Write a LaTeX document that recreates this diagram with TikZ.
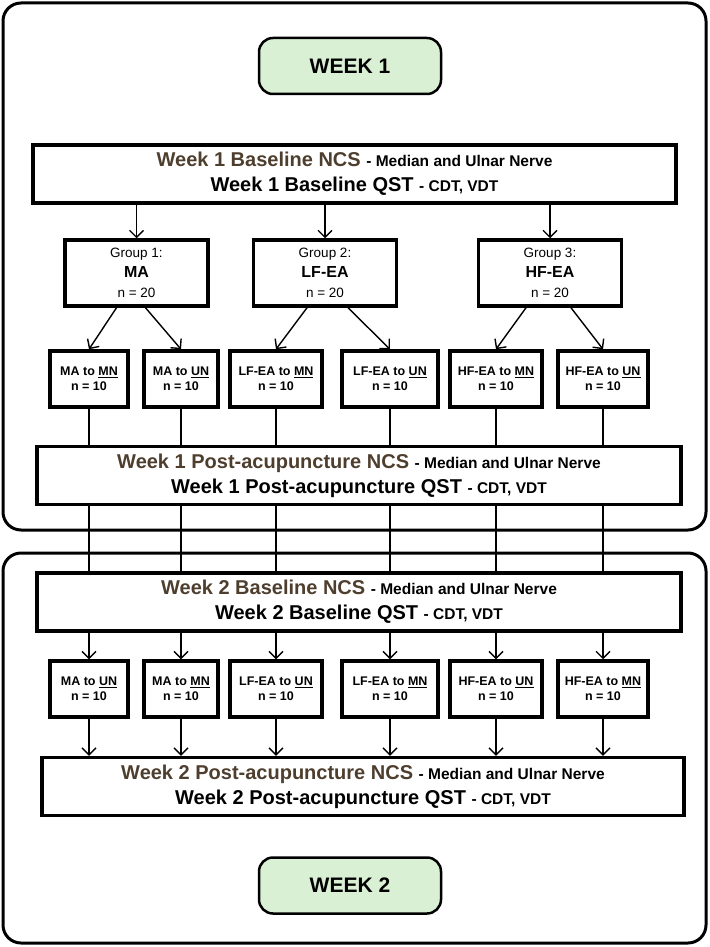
\documentclass[tikz,border=0pt]{standalone}
\usepackage{fontspec}
\setmainfont{Liberation Sans}
\usepackage{xcolor}
\usepackage{tikz}
\usetikzlibrary{arrows.meta, positioning}
\definecolor{ncsbrown}{RGB}{78,62,46}
\definecolor{weekgreen}{RGB}{218,240,212}
\newcommand{\stagenote}[1]{{\fontsize{15.5}{25}\selectfont #1}}

\begin{document}
\begin{tikzpicture}[
    x=1pt, y=-1pt,
    >={Straight Barb[length=7pt,width=14pt]},
    frame/.style={rectangle, rounded corners=18pt, draw, line width=3pt, minimum width=703pt, inner sep=0pt},
    weekbox/.style={rectangle, rounded corners=14pt, draw, fill=weekgreen, line width=2.5pt, minimum width=182pt, minimum height=56pt, font=\fontsize{21}{25}\selectfont\bfseries},
    stage/.style={rectangle, draw, line width=3.5pt, minimum height=58pt, inner sep=0pt, align=center, font=\fontsize{20}{25}\selectfont\bfseries},
    group/.style={rectangle, draw, line width=3.5pt, minimum width=143pt, minimum height=66pt, inner sep=0pt, align=center, font=\fontsize{13.5}{20}\selectfont},
    arm/.style={rectangle, draw, line width=3.5pt, minimum height=56pt, inner sep=0pt, align=center, font=\fontsize{12.5}{15.5}\selectfont\bfseries},
    link/.style={line width=1.4pt}
]
\useasboundingbox (0,0) rectangle (709,947);

% Week frames
\node[frame, minimum height=527pt] (frame1) at (354.5,266.5) {};
\node[frame, minimum height=390pt] (frame2) at (354.5,748) {};

\node[weekbox] (week1) at (350,66) {WEEK 1};
\node[weekbox] (week2) at (350,885.5) {WEEK 2};

% Week 1 baseline
\node[stage, minimum width=643pt] (base1) at (354.5,174) {\textcolor{ncsbrown}{Week 1 Baseline NCS} \stagenote{- Median and Ulnar Nerve}\\ Week 1 Baseline QST \stagenote{- CDT, VDT}};

% Groups
\node[group] (g1) at (136.5,273) {Group 1:\\ {\fontsize{16}{20}\selectfont\bfseries MA}\\ n = 20};
\node[group] (g2) at (325,273) {Group 2:\\ {\fontsize{16}{20}\selectfont\bfseries LF-EA}\\ n = 20};
\node[group] (g3) at (550,273) {Group 3:\\ {\fontsize{16}{20}\selectfont\bfseries HF-EA}\\ n = 20};

% Week 1 arms
\node[arm, minimum width=78pt] (a1) at (89,379) {MA to \underline{MN}\\ n = 10};
\node[arm, minimum width=74pt] (a2) at (181,379) {MA to \underline{UN}\\ n = 10};
\node[arm, minimum width=92pt] (a3) at (276,379) {LF-EA to \underline{MN}\\ n = 10};
\node[arm, minimum width=96pt] (a4) at (390,379) {LF-EA to \underline{UN}\\ n = 10};
\node[arm, minimum width=92pt] (a5) at (496,379) {HF-EA to \underline{MN}\\ n = 10};
\node[arm, minimum width=90pt] (a6) at (603,379) {HF-EA to \underline{UN}\\ n = 10};

% Week 1 post-acupuncture
\node[stage, minimum width=644pt] (post1) at (359,475.5) {\textcolor{ncsbrown}{Week 1 Post-acupuncture NCS} \stagenote{- Median and Ulnar Nerve}\\ Week 1 Post-acupuncture QST \stagenote{- CDT, VDT}};

% Week 2 baseline
\node[stage, minimum width=644pt] (base2) at (359,602) {\textcolor{ncsbrown}{Week 2 Baseline NCS} \stagenote{- Median and Ulnar Nerve}\\ Week 2 Baseline QST \stagenote{- CDT, VDT}};

% Week 2 arms (crossover)
\node[arm, minimum width=78pt] (b1) at (89,689) {MA to \underline{UN}\\ n = 10};
\node[arm, minimum width=74pt] (b2) at (181,689) {MA to \underline{MN}\\ n = 10};
\node[arm, minimum width=92pt] (b3) at (276,689) {LF-EA to \underline{UN}\\ n = 10};
\node[arm, minimum width=96pt] (b4) at (390,689) {LF-EA to \underline{MN}\\ n = 10};
\node[arm, minimum width=92pt] (b5) at (496,689) {HF-EA to \underline{UN}\\ n = 10};
\node[arm, minimum width=90pt] (b6) at (603,689) {HF-EA to \underline{MN}\\ n = 10};

% Week 2 post-acupuncture
\node[stage, minimum width=642pt] (post2) at (363,786.5) {\textcolor{ncsbrown}{Week 2 Post-acupuncture NCS} \stagenote{- Median and Ulnar Nerve}\\ Week 2 Post-acupuncture QST \stagenote{- CDT, VDT}};

% Arrows
\draw[->, link] (base1.south -| g1) -- (g1.north);
\draw[->, link] (base1.south -| g2) -- (g2.north);
\draw[->, link] (base1.south -| g3) -- (g3.north);

\draw[->, link] ([xshift=-20pt]g1.south) -- (a1.north);
\draw[->, link] ([xshift=9pt]g1.south) -- (a2.north);
\draw[->, link] ([xshift=-18pt]g2.south) -- (a3.north);
\draw[->, link] ([xshift=23pt]g2.south) -- (a4.north);
\draw[->, link] ([xshift=-24pt]g3.south) -- (a5.north);
\draw[->, link] ([xshift=21pt]g3.south) -- (a6.north);

\draw[link] (a1.south) -- (a1.south |- post1.north);
\draw[link] (a2.south) -- (a2.south |- post1.north);
\draw[link] (a3.south) -- (a3.south |- post1.north);
\draw[link] (a4.south) -- (a4.south |- post1.north);
\draw[link] (a5.south) -- (a5.south |- post1.north);
\draw[link] (a6.south) -- (a6.south |- post1.north);

\draw[link] (a1.south |- post1.south) -- (a1.south |- base2.north);
\draw[link] (a2.south |- post1.south) -- (a2.south |- base2.north);
\draw[link] (a3.south |- post1.south) -- (a3.south |- base2.north);
\draw[link] (a4.south |- post1.south) -- (a4.south |- base2.north);
\draw[link] (a5.south |- post1.south) -- (a5.south |- base2.north);
\draw[link] (a6.south |- post1.south) -- (a6.south |- base2.north);

\draw[->, link] (b1.north |- base2.south) -- (b1.north);
\draw[->, link] (b2.north |- base2.south) -- (b2.north);
\draw[->, link] (b3.north |- base2.south) -- (b3.north);
\draw[->, link] (b4.north |- base2.south) -- (b4.north);
\draw[->, link] (b5.north |- base2.south) -- (b5.north);
\draw[->, link] (b6.north |- base2.south) -- (b6.north);

\draw[->, link] (b1.south) -- (b1.south |- post2.north);
\draw[->, link] (b2.south) -- (b2.south |- post2.north);
\draw[->, link] (b3.south) -- (b3.south |- post2.north);
\draw[->, link] (b4.south) -- (b4.south |- post2.north);
\draw[->, link] (b5.south) -- (b5.south |- post2.north);
\draw[->, link] (b6.south) -- (b6.south |- post2.north);

\end{tikzpicture}
\end{document}
